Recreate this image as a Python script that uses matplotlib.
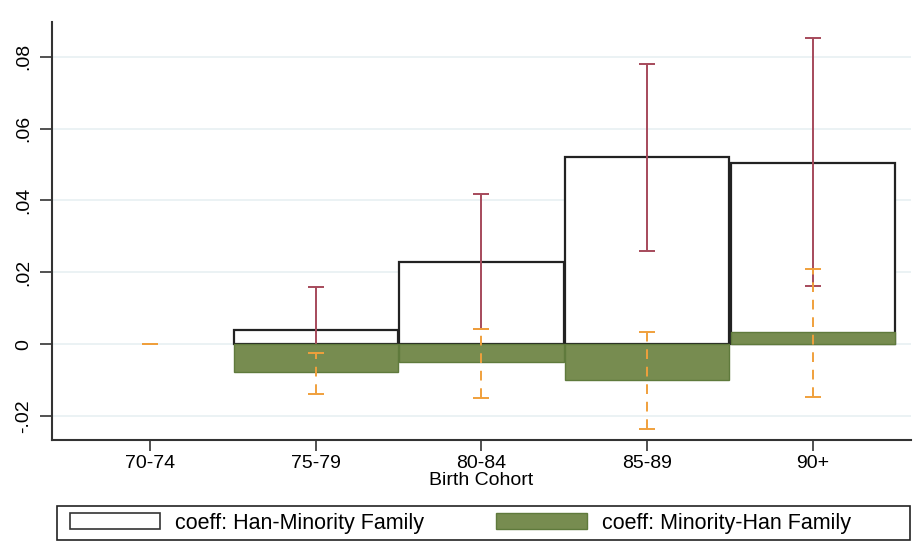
import matplotlib.pyplot as plt
from matplotlib.patches import Patch, Rectangle
import numpy as np

plt.rcParams['font.family'] = ['Liberation Sans', 'DejaVu Sans']

cohorts = ['70-74', '75-79', '80-84', '85-89', '90+']

# Han-Minority family coefficients and 95% CI (70-74 is the reference group)
han_min = [0.0, 0.0040, 0.0230, 0.0520, 0.0505]
han_min_lo = [0.0, -0.0074, 0.0042, 0.0258, 0.0163]
han_min_hi = [0.0, 0.0160, 0.0418, 0.0779, 0.0852]

# Minority-Han family coefficients and 95% CI
min_han = [0.0, -0.0077, -0.0051, -0.0100, 0.0033]
min_han_lo = [0.0, -0.0139, -0.0151, -0.0237, -0.0147]
min_han_hi = [0.0, -0.0026, 0.0042, 0.0033, 0.0210]

yticks = [-0.02, 0, 0.02, 0.04, 0.06, 0.08]
yticklabels = ['-.02', '0', '.02', '.04', '.06', '.08']

red = '#a64a5b'
orange = '#f0a03c'
green = '#778c50'

x = np.arange(len(cohorts))
fig = plt.figure(figsize=(9.23, 5.58), dpi=100)
ax = fig.add_axes([0.0563, 0.2115, 0.9307, 0.7491])

ax.set_xlim(-0.59, 4.59)
ax.set_ylim(-0.0267, 0.0897)
ax.set_yticks(yticks)
ax.set_yticklabels(yticklabels, rotation=90, va='center')
ax.grid(axis='y', color='#e8f0f2', linewidth=1.2, zorder=0)
ax.set_axisbelow(True)

# reference cohort has no bar, only the zero-width intervals
est = x[1:]
ax.bar(est, han_min[1:], width=0.99, color='white', edgecolor='#222222',
       linewidth=1.6, zorder=1)

hm = np.array(han_min)
ax.errorbar(x, hm, yerr=[hm - han_min_lo, np.array(han_min_hi) - hm],
            fmt='none', ecolor=red, elinewidth=1.4, capsize=6,
            capthick=1.4, zorder=2)

ax.bar(est, min_han[1:], width=0.99, color=green, edgecolor='#5f7a3c',
       linewidth=1.0, zorder=3)

mh = np.array(min_han)
eb = ax.errorbar(x, mh, yerr=[mh - min_han_lo, np.array(min_han_hi) - mh],
                 fmt='none', ecolor=orange, elinewidth=1.4, capsize=6,
                 capthick=1.4, zorder=4)
eb[2][0].set_linestyle((0, (5, 4)))

ax.set_xticks(x)
ax.set_xticklabels(cohorts)
ax.set_xlabel('Birth Cohort', fontsize=14, labelpad=0)
ax.tick_params(axis='x', labelsize=14, length=8, width=1.2, color='#333333', pad=3)
ax.tick_params(axis='y', labelsize=14, length=9, width=1.2, color='#333333', pad=5)

for side in ['top', 'right']:
    ax.spines[side].set_visible(False)
for side in ['left', 'bottom']:
    ax.spines[side].set_color('#333333')
    ax.spines[side].set_linewidth(1.5)

# legend entries, with a wide box drawn around them
handles = [Patch(facecolor='white', edgecolor='#333333', linewidth=1.2),
           Patch(facecolor=green, edgecolor='#5f7a3c', linewidth=1.0)]
labels = ['coeff: Han-Minority Family', 'coeff: Minority-Han Family']
fig.legend(handles, labels, loc='center left', ncol=2,
           bbox_to_anchor=(0.0758, 0.0627), frameon=False,
           fontsize=15.5, handlelength=4.2, handleheight=0.8,
           borderpad=0, borderaxespad=0, handletextpad=0.7,
           columnspacing=3.34)
fig.patches.append(Rectangle((0.0618, 0.0323), 0.924, 0.061, fill=False,
                             edgecolor='#222222', linewidth=1.2,
                             transform=fig.transFigure, figure=fig))

fig.savefig('out.png', dpi=100)
